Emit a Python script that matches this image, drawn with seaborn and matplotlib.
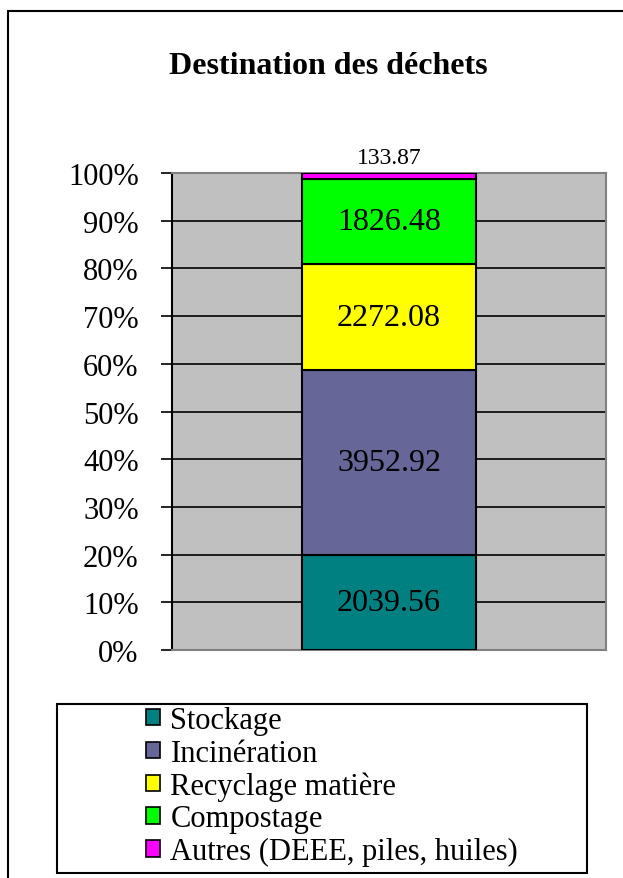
import matplotlib
matplotlib.use('Agg')
import matplotlib.pyplot as plt
import pandas as pd
import seaborn as sns
from matplotlib.patches import Rectangle
from matplotlib.ticker import PercentFormatter

# Data
categories = ['Stockage', 'Incinération', 'Recyclage matière', 'Compostage', 'Autres (DEEE, piles, huiles)']
values = [2039.56, 3952.92, 2272.08, 1826.48, 133.87]
colors = ['#008080', '#666699', '#FFFF00', '#00FF00', '#FF00FF']
value_labels = ['2039.56', '3952.92', '2272.08', '1826.48', '133.87']

df = pd.DataFrame({'category': categories, 'value': values})
df['pct'] = df['value'] / df['value'].sum() * 100
df['bottom'] = df['pct'].cumsum() - df['pct']
df['x'] = ''

sns.set_style('white')
plt.rcParams['font.family'] = ['Liberation Serif', 'DejaVu Serif']
plt.rcParams['text.color'] = 'black'
plt.rcParams['ytick.color'] = 'black'

fig = plt.figure(figsize=(6.23, 8.79), dpi=100)
ax = fig.add_axes([172 / 623, 1 - 651 / 879, 434 / 623, 477 / 879])
ax.set_facecolor('#C0C0C0')

# Stacked bar: one seaborn call per segment
for i, row in df.iterrows():
    sns.barplot(data=df.iloc[[i]], x='x', y='pct', bottom=row['bottom'], color=colors[i],
                width=0.4, edgecolor='black', linewidth=1.5, ax=ax, saturation=1, zorder=3)

ax.set_ylim(0, 100)
ax.set_xlim(-0.5, 0.5)
ax.set_yticks(range(0, 101, 10))
ax.yaxis.set_major_formatter(PercentFormatter(decimals=0))
ax.set_xticks([])
ax.set_xlabel('')
ax.set_ylabel('')
ax.grid(axis='y', color='black', linewidth=1.2, zorder=1)
ax.set_axisbelow(True)
ax.tick_params(axis='y', direction='out', length=8, width=1.2, color='black', labelsize=22,
               labelcolor='black', pad=16, left=True)
for s in ['top', 'right', 'bottom']:
    ax.spines[s].set_color('#808080')
    ax.spines[s].set_linewidth(1.5)
ax.spines['left'].set_color('black')
ax.spines['left'].set_linewidth(1.5)

# Segment labels
for i, row in df.iterrows():
    if row['pct'] > 5:
        ax.text(0, row['bottom'] + row['pct'] / 2, value_labels[i], ha='center', va='center',
                fontsize=23, color='black', zorder=5)
    else:
        ax.text(0, row['bottom'] + row['pct'] + 1.0, value_labels[i], ha='center', va='bottom',
                fontsize=17, color='black', zorder=5)

fig.text(328 / 623, 1 - 66 / 879, 'Destination des déchets', ha='center', va='center',
         fontsize=23, fontweight='bold', color='black')

# Outer frame
fig.add_artist(Rectangle((8 / 623, -0.1), 1.2, 1.1 - 12 / 879, transform=fig.transFigure,
                         fill=False, edgecolor='black', linewidth=1.5))

# Legend frame
fig.add_artist(Rectangle((57 / 623, 1 - 874 / 879), 530 / 623, 169 / 879, transform=fig.transFigure,
                         fill=False, edgecolor='black', linewidth=1.5))
handles = [Rectangle((0, 0), 1, 1, facecolor=c, edgecolor='black', linewidth=1.2) for c in colors]
fig.legend(handles, categories, loc='upper left', bbox_to_anchor=(146 / 623, 1 - 707 / 879),
           frameon=False, fontsize=22, handlelength=0.45, handleheight=0.45, handletextpad=0.35,
           labelspacing=0.12, borderpad=0, borderaxespad=0)

fig.savefig('out.png', dpi=100)
